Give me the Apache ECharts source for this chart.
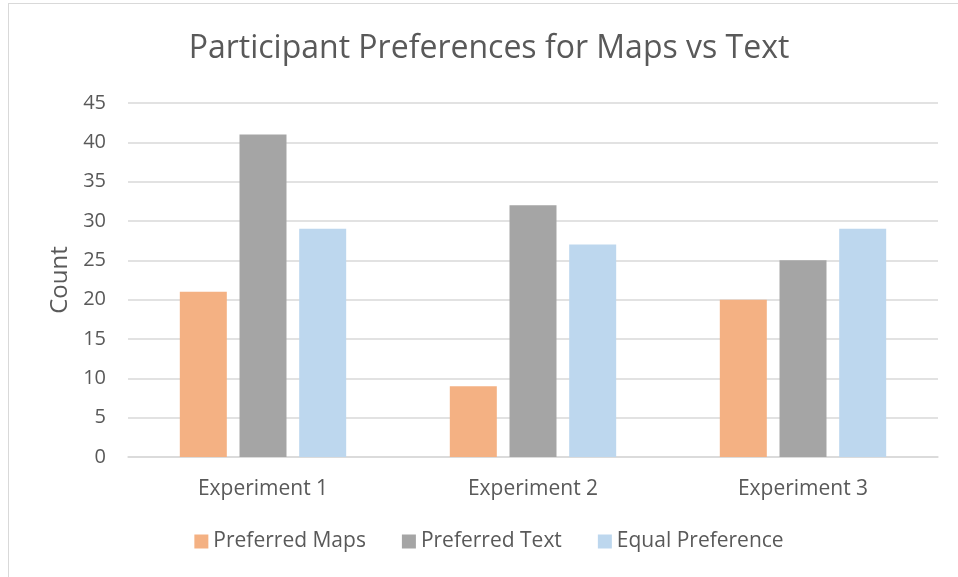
<!DOCTYPE html>
<html>
<head>
<meta charset="utf-8">
<script src="https://cdn.jsdelivr.net/npm/echarts@6/dist/echarts.min.js"></script>
<style>
  html, body { margin: 0; padding: 0; background: #fff; overflow: hidden; }
  .frame {
    position: absolute; left: 8px; top: 3px;
    width: 980px; height: 600px;
    border-left: 1px solid #d9d9d9; border-top: 1px solid #d9d9d9;
  }
  #chart { position: absolute; left: 10px; top: 0; width: 958px; height: 577px; }
</style>
</head>
<body>
<div class="frame"></div>
<div id="chart"></div>
<script>
  // participant counts per experiment
  const experiments = ['Experiment 1', 'Experiment 2', 'Experiment 3']
  const preferredMaps = [21, 9, 20]
  const preferredText = [41, 32, 25]
  const equalPreference = [29, 27, 29]

  const textColor = '#595959'
  const font = '"Open Sans", "Noto Sans", sans-serif'

  const myChart = echarts.init(document.getElementById('chart'))
  const option = {
    animation: false,
    textStyle: { fontFamily: font, color: textColor },
    title: {
      text: 'Participant Preferences for Maps vs Text',
      left: 'center',
      top: 28,
      textStyle: { fontFamily: font, fontSize: 32, fontWeight: 'normal', color: textColor }
    },
    legend: {
      bottom: 20,
      left: 'center',
      itemWidth: 14,
      itemHeight: 14,
      itemGap: 36,
      icon: 'rect',
      textStyle: { fontFamily: font, fontSize: 21, color: textColor },
      data: ['Preferred Maps', 'Preferred Text', 'Equal Preference']
    },
    grid: { left: 118, right: 30, top: 103, bottom: 120 },
    xAxis: {
      type: 'category',
      data: experiments,
      axisLine: { lineStyle: { color: '#d9d9d9', width: 1.5 } },
      axisTick: { show: false },
      axisLabel: { fontFamily: font, fontSize: 21, color: textColor, margin: 22 }
    },
    yAxis: {
      type: 'value',
      min: 0,
      max: 45,
      interval: 5,
      name: 'Count',
      nameLocation: 'middle',
      nameGap: 56,
      nameTextStyle: { fontFamily: font, fontSize: 24, color: textColor },
      axisLine: { show: false },
      axisTick: { show: false },
      axisLabel: { fontFamily: font, fontSize: 20, color: textColor, margin: 22 },
      splitLine: { lineStyle: { color: '#d9d9d9', width: 1.5 } }
    },
    series: [
      { name: 'Preferred Maps', type: 'bar', data: preferredMaps, barWidth: 47, barGap: '27%', itemStyle: { color: '#F4B183' } },
      { name: 'Preferred Text', type: 'bar', data: preferredText, barWidth: 47, barGap: '27%', itemStyle: { color: '#A5A5A5' } },
      { name: 'Equal Preference', type: 'bar', data: equalPreference, barWidth: 47, barGap: '27%', itemStyle: { color: '#BDD7EE' } }
    ]
  }
  myChart.setOption(option)
</script>
</body>
</html>
